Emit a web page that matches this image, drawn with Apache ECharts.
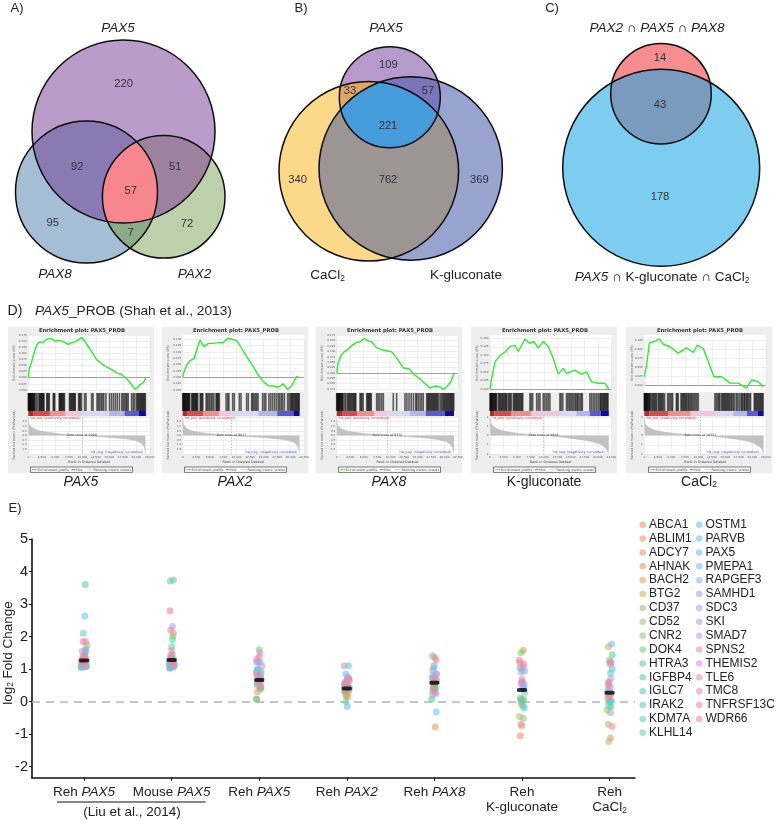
<!DOCTYPE html>
<html>
<head>
<meta charset="utf-8">
<style>
  html, body { margin: 0; padding: 0; background: #fff; }
  #main, #gsea { position: absolute; left: 0; top: 0; width: 777px; height: 821px; }
  #gsea { filter: blur(0.45px); pointer-events: none; }
</style>
<script src="https://cdn.jsdelivr.net/npm/echarts@6/dist/echarts.min.js"></script>
</head>
<body>
<div id="main"></div>
<div id="gsea"></div>
<script>
// ---- panel E: fold changes, one value per gene per comparison ----
const genes = ["ABCA1","ABLIM1","ADCY7","AHNAK","BACH2","BTG2","CD37","CD52","CNR2","DOK4","HTRA3","IGFBP4","IGLC7","IRAK2","KDM7A","KLHL14",
  "OSTM1","PARVB","PAX5","PMEPA1","RAPGEF3","SAMHD1","SDC3","SKI","SMAD7","SPNS2","THEMIS2","TLE6","TMC8","TNFRSF13C","WDR66"];
const comparisons = ["{n|Reh }{i|PAX5}","{n|Mouse }{i|PAX5}","{n|Reh }{i|PAX5}","{n|Reh }{i|PAX2}","{n|Reh }{i|PAX8}","{n|Reh}\n{n|K-gluconate}","{n|Reh}\n{n|CaCl}{s|2}"];
const liuReh   = [1.20,1.42,1.33,1.12,1.08,1.10,1.06,1.73,1.28,1.15,3.60,1.22,1.62,1.10,1.30,2.10,1.07,2.63,1.05,1.55,1.50,1.06,1.18,1.55,1.25,1.35,1.85,1.12,1.85,1.40,1.25];
const liuMouse = [2.79,1.38,2.10,1.18,1.22,1.12,1.05,1.02,2.02,3.74,1.10,1.30,1.46,1.90,1.69,3.71,1.15,1.08,1.04,1.06,1.20,1.25,2.31,1.10,1.32,1.14,1.57,2.20,1.28,1.42,1.16];
const rehPax5  = [0.90,0.30,0.93,0.62,0.72,0.55,0.08,0.38,1.60,0.40,0.07,0.45,0.78,0.65,0.50,0.98,0.85,1.00,1.22,1.22,0.75,1.22,0.60,0.55,1.50,1.10,0.70,1.30,1.38,0.82,0.48];
const rehPax2  = [0.68,0.55,0.18,0.15,0.22,0.28,0.30,0.36,0.45,0.32,0.58,0.42,0.38,0.00,1.10,0.62,0.70,0.85,-0.15,0.52,0.40,0.48,0.58,1.10,0.75,0.66,0.64,0.72,0.50,0.44,0.35];
const rehPax8  = [1.28,0.72,-0.78,0.66,0.50,0.58,0.40,0.44,0.46,0.43,1.41,0.42,0.38,0.07,1.03,0.62,0.70,-0.32,0.20,0.80,1.10,0.85,0.97,0.84,0.28,0.25,0.68,0.55,1.35,0.60,0.33];
const rehKgluc = [1.16,-1.05,-0.10,0.00,1.58,-0.75,-0.46,0.08,-0.51,1.50,0.11,0.05,1.04,0.02,0.30,-0.20,-0.15,0.42,0.54,0.94,0.92,0.45,1.00,0.60,0.55,0.62,1.08,0.70,1.27,-0.70,1.20];
const rehCacl  = [0.58,-1.12,0.30,0.10,-0.70,1.69,-0.26,-1.23,1.28,1.20,-0.17,-0.12,1.44,0.00,0.02,0.88,0.00,1.00,0.35,1.77,0.20,0.72,-0.34,0.46,0.22,1.22,-0.77,0.60,1.15,0.50,0.15];
const comparisonValues = [liuReh, liuMouse, rehPax5, rehPax2, rehPax8, rehKgluc, rehCacl];
const comparisonMeans = [1.26, 1.28, 0.66, 0.40, 0.58, 0.36, 0.27];
// sideways spread of the dots, in hundredths of a category
const liuRehSpread   = [-2,1,2,-3,2,-1,-3,3.4,-2,1,1.5,-1,2,3,-2,-0.8,-3,0.8,-3,2,1,2,-2,-2,3,0,2,1,-1,-1,-3];
const liuMouseSpread = [-2,0,2,1,-2,3,-1,-2,1.5,2,-2,2,0.8,1,0,-1.5,-3,2,-2,1.5,3,-1,1,3,-2,1,0,-1,2,-1,1];
const rehPax5Spread  = [-3,-2,2,-1,1,-2.5,-3,1,0,1.5,-3,2,-1,1,-2,-2,2,-2,-1,0.8,1.5,-3,-2,2,0.8,3,2,-3,0,-3,1];
const rehPax2Spread  = [2,-2,-1,1,0,-2,2,-3,1,-1,0,3,-1.5,-1,2,-1,2,-1,0.6,-3,2,1,-2,-3,1,0,3,2,-2,1,-1];
const rehPax8Spread  = [2,-2,1,2,0,-1,1,-1,0,0,-2,1,-1,-3,-0.5,1,-2,2,-2,-2,-0.5,2,-2,2.5,1,1.5,2,-1,0.5,-1,-2];
const rehKglucSpread = [2,-2,-0.5,-1,1.5,-0.5,-3,2,1.5,-1,-2,-1,-2.5,1,3,2.5,1.5,2,2.5,3,-1,1,0,0,-1,0,1.5,0,-3,-1,-2.5];
const rehCaclSpread  = [-1,1,0,-2,-1.5,-1.5,-3,-1,0,0,1.5,-0.8,3,0.8,2.3,1,-0.8,3,-2,2.3,1,1.5,1,0.8,-2,2,3,-1,1,-1.5,0];
const comparisonSpreads = [liuRehSpread, liuMouseSpread, rehPax5Spread, rehPax2Spread, rehPax8Spread, rehKglucSpread, rehCaclSpread];

// ---- panels A-C: venn counts ----
const vennACounts = [220, 92, 57, 51, 95, 72, 7];
const vennBCounts = [109, 33, 57, 221, 762, 340, 369];
const vennCCounts = [14, 43, 178];

// ---- panel D: enrichment curves [rank, score] ----
const esPax5 = [[0,0],[185,.037],[617,.065],[925,.092],[1420,.127],[1850,.143],[2280,.147],[2775,.145],[3395,.157],[4010,.161],[4505,.157],[4935,.150],[5550,.154],[6170,.150],[6785,.145],[7405,.137],[8020,.144],[8640,.147],[9255,.155],[9870,.164],[10300,.155],[10920,.134],[11720,.107],[12650,.074],[13570,.058],[14500,.044],[15420,.034],[16470,.019],[17270,.014],[18200,-.004],[18940,-.022],[19740,-.048],[20170,-.041],[20660,-.028],[21280,-.021],[21780,-.001]];
const esPax2 = [[0,0],[245,.022],[740,.049],[1360,.066],[2100,.074],[2590,.108],[3210,.147],[3950,.121],[4750,.134],[5680,.134],[6600,.137],[7530,.137],[8330,.154],[9070,.151],[10000,.145],[10730,.121],[11850,.082],[13080,.042],[14010,.009],[14930,-.017],[15860,-.033],[16780,-.034],[17710,-.039],[18630,-.026],[19430,-.047],[20170,-.034],[21100,.003],[21650,-.001]];
const esPax8 = [[0,0],[245,.044],[740,.080],[1360,.098],[2160,.111],[2780,.127],[3700,.142],[4320,.145],[5120,.161],[5860,.148],[6480,.145],[7280,.119],[8330,.108],[9560,.102],[10180,.098],[11100,.070],[12340,.023],[13390,.020],[14500,-.011],[15420,-.027],[16350,-.050],[17270,-.070],[18380,-.061],[19120,-.066],[19740,-.078],[20480,-.061],[21100,-.042],[21720,0]];
const esKgluc = [[0,0],[310,.032],[925,.081],[1850,.099],[2775,.109],[3700,.126],[4620,.129],[5240,.111],[6470,.148],[7400,.135],[8130,.141],[8930,.121],[9860,.141],[10780,.126],[11700,.091],[12630,.044],[13550,.061],[14170,.046],[15710,.056],[16940,.044],[17870,.051],[18800,.022],[20030,.017],[21260,.017],[22000,0]];
const esCacl = [[0,.024],[430,.057],[925,.118],[1665,.122],[2775,.130],[3515,.115],[4750,.108],[6290,.090],[7830,.105],[9070,.092],[9810,.113],[10920,.103],[11850,.066],[12900,.024],[14320,.024],[15860,.006],[17400,.006],[18940,-.008],[19860,.015],[21100,.010],[22100,-.004]];

// gene-set hit positions along the ranked list
const hitsPax5 = [0,90,180,270,360,450,560,660,770,880,990,1100,1210,1450,1700,1980,2120,2260,2390,2520,2660,2790,2900,3420,3560,3720,3890,4620,4760,4900,5720,5850,5980,6110,6250,6400,6560,6700,7620,7770,7940,8100,8260,8420,8580,8700,9320,9480,9640,9860,10420,10690,11720,11990,12720,12960,13200,13480,13720,13980,14380,15040,15400,15760,16120,16480,16880,17320,17560,17800,18060,18260,18500,19120,19420,19700,20040,20210,20380,20560,20720,20880,21040,21200,21360,21520,21680];
const hitsPax2 = [0,100,200,300,400,510,620,730,840,950,1060,1180,1300,1660,1800,1940,2080,2220,2360,2500,2640,2780,3240,3400,3560,3720,4340,4540,4780,5020,5280,5520,5780,6170,6320,6470,6620,6780,8030,8340,8550,9250,9560,10490,10800,11840,12150,12770,12960,13200,13450,13700,13950,14800,15100,15400,15960,16300,16640,17000,17350,17700,17960,18260,18510,18840,19430,19700,19960,20120,20280,20450,20620,20800,20960,21120,21280,21440,21580];
const hitsPax8 = [0,90,180,280,380,480,590,700,820,940,1060,1180,1450,1680,1980,2160,2340,2520,2700,2900,3080,3240,3400,3540,4320,4500,4680,4900,5560,5740,5900,6060,6240,6400,7400,7680,8000,8330,8640,10480,11100,12640,13000,13400,13800,14200,14620,14820,15120,15440,15740,16040,16660,16840,17000,17180,17360,17540,17720,17900,18080,18260,18440,18620,18800,19120,19360,19600,19780,19960,20140,20320,20500,20680,20860,21040,21200,21360,21520,21680];
const hitsKgluc = [0,90,180,280,380,490,610,740,860,980,1100,1210,1540,1720,1900,2080,2260,2440,2620,2790,2960,3100,3390,3580,3760,3950,4320,4500,4680,4860,5020,5200,5380,5550,5740,5900,6060,7400,7640,7900,8640,8950,9250,9860,10160,10480,10780,11100,12950,13180,13480,14170,14420,14680,14930,15180,15420,15720,15920,16160,16340,16640,16900,17100,18500,18800,19120,19430,19740,20050,20360,20500,20680,20860,21040,21200,21360,21540,21700,21860];
const hitsCacl = [0,80,160,240,330,420,520,620,740,860,980,1110,1360,1540,1730,1910,2100,2280,2590,2770,2960,3140,3330,3520,3760,4320,4560,4800,5060,5240,5930,6100,6290,6790,6970,7160,7340,7530,7720,7900,8140,8330,8560,8760,9000,9250,9500,9750,10000,13080,13330,13600,13820,14000,14320,14500,14680,14870,15050,15240,15420,15620,15800,16040,16220,16470,16700,17030,17270,17570,17890,18080,18260,18500,18640,18880,19060,19260,19490,19680,20360,20540,20720,20910,21100,21280,21470,21650,21840,22000];

// colour strip band edges along the ranked list
const stripPax5 = [0,1000,4000,6800,10000,15000,17800,20500,21780];
const stripPax2 = [0,900,3800,6800,9000,14000,17500,20500,21650];
const stripPax8 = [0,1000,3800,7000,9400,13500,16500,20000,21720];
const stripKgluc = [0,800,4000,7600,12950,16000,18500,20500,22000];
const stripCacl = [0,900,4500,8600,13100,16500,19000,21000,22100];

// ranking metric [rank, score]
const metricPax5 = [[0,1.95],[60,1.5],[200,1.2],[500,.95],[1000,.75],[2000,.52],[3500,.35],[5000,.24],[7000,.12],[9900,0],[12000,-.08],[14000,-.15],[16000,-.24],[18000,-.36],[19500,-.5],[20500,-.68],[21200,-.95],[21500,-1.25],[21700,-1.9]];
const metricPax2 = [[0,1.9],[60,1.45],[200,1.15],[500,.9],[1000,.68],[2000,.46],[3500,.3],[5000,.2],[7000,.09],[9017,0],[11000,-.07],[13000,-.14],[15000,-.22],[17000,-.32],[19000,-.46],[20300,-.66],[21000,-.9],[21400,-1.3],[21640,-1.9]];
const metricPax8 = [[0,1.85],[60,1.4],[200,1.1],[500,.88],[1000,.68],[2000,.47],[3500,.32],[5000,.21],[7000,.1],[9376,0],[11500,-.07],[13500,-.14],[15500,-.22],[17500,-.33],[19000,-.46],[20300,-.66],[21000,-.92],[21450,-1.3],[21710,-1.9]];
const metricKgluc = [[0,1.95],[60,1.6],[200,1.3],[500,1.05],[1000,.82],[2000,.58],[3500,.38],[5000,.25],[7000,.12],[9904,0],[11500,-.05],[13500,-.2],[15500,-.34],[17500,-.5],[19000,-.68],[20300,-.9],[21100,-1.2],[21600,-1.5],[21990,-1.95]];
const metricCacl = [[0,1.9],[60,1.55],[200,1.25],[500,1],[1000,.8],[2000,.56],[3500,.38],[5000,.26],[7500,.12],[10351,0],[12500,-.06],[14500,-.2],[16500,-.34],[18000,-.48],[19500,-.66],[20500,-.88],[21300,-1.2],[21800,-1.5],[22090,-1.95]];

const zeroCrossRanks = [9900, 9017, 9376, 9904, 10351];
const zeroCrossTexts = ["Zero cross at 9900","Zero cross at 9017","Zero cross at 9376","Zero cross at 9904","Zero cross at 10351"];
const panelCaptions = ["{i|PAX5}","{i|PAX2}","{i|PAX8}","K-gluconate","CaCl{s|2}"];

// ---- styles and layout ----
const FONT = '"Liberation Sans", Arial, sans-serif';
const GSEA_FONT = '"DejaVu Sans", sans-serif';
const TEXT = '#222';
// dot colours as they look on white, darkened for the alpha below
const geneShades = ["#F4A9A9","#F6AE9C","#EFB58B","#E9BB84","#DFC387","#D8C98A","#C9CE8E","#BFD498","#AFD79B","#9DD9A1","#90DBAA","#8DDBB2","#8CDCBD","#8BDCC7","#8CDCD1","#8CDADA",
  "#8CD9E3","#8DD6EC","#95D1F1","#A1CCF0","#AAC7EC","#B5C2E8","#C4BDE4","#CFB9E2","#D7B5DF","#E0B2D9","#E9AED1","#EFACC7","#F3A9BE","#F5A8B6","#F5A9AE"];
function dotColor(hex, alpha) {
  const rgb = [1, 3, 5].map(i => parseInt(hex.substr(i, 2), 16));
  const solid = rgb.map(c => Math.max(0, Math.round((c - 255 * (1 - alpha)) / alpha)));
  return 'rgba(' + solid.join(',') + ',' + alpha + ')';
}
const stripColors = ['#B02A2A','#D94A4A','#EE9090','#F4C6DE','#D9D9F7','#B5B5EE','#5A5AD8','#1A00A8'];

function richFor(size, family) {
  const f = family || FONT;
  return {
    i: { fontStyle: 'italic', fontSize: size, fontFamily: f, fill: TEXT, color: TEXT },
    n: { fontSize: size, fontFamily: f, fill: TEXT, color: TEXT },
    s: { fontSize: size * 0.62, fontFamily: f, verticalAlign: 'bottom', fill: TEXT, color: TEXT }
  };
}
function label(x, y, text, size, opt) {
  opt = opt || {};
  return {
    type: 'text', x: x, y: y, rotation: opt.rotation || 0, z: opt.z || 5, silent: true,
    style: {
      text: text, fill: opt.fill || TEXT, fontSize: size, fontFamily: opt.family || FONT,
      fontWeight: opt.weight || 'normal', fontStyle: opt.style || 'normal',
      textAlign: opt.align || 'center', textVerticalAlign: 'middle', rich: richFor(size, opt.family)
    }
  };
}

// venn circles in page pixels, regions painted bottom to top
const circlesA = [[123.5,131.5,91.5],[86.5,192,71],[163.7,196.8,61.3]];
const regionsA = [[[0],'#B99CC9'],[[1],'#A6BDD6'],[[2],'#BDD0AC'],[[0,1],'#8B79B4'],[[0,2],'#9C829F'],[[1,2],'#8DAB8B'],[[0,1,2],'#F7868E']];
const circlesB = [[368.8,171.2,89.8],[410.7,168.5,91.7],[389.8,97.3,50.5]];
const regionsB = [[[0],'#FCD988'],[[1],'#99A3CF'],[[2],'#B69ACB'],[[0,1],'#9C9593'],[[0,2],'#E0A665'],[[1,2],'#7A74BB'],[[0,1,2],'#459CDA']];
const circlesC = [[661,93.7,50.3],[661.2,167.8,98.5]];
const regionsC = [[[0],'#F78D8E'],[[1],'#7DCDF0'],[[0,1],'#7B9BBE']];

function vennSeries(circles, regions) {
  const toPx = (api, i) => {
    const p = api.coord([circles[i][0], circles[i][1]]);
    return { cx: p[0], cy: p[1], r: api.size([circles[i][2], 0])[0] };
  };
  const fills = {
    type: 'custom', xAxisIndex: 1, yAxisIndex: 1, silent: true, clip: false, z: 2,
    data: regions.map((r, i) => [i, 0]), encode: { x: 0, y: 1 },
    renderItem: (params, api) => {
      const ids = regions[params.dataIndex][0];
      let el = { type: 'circle', shape: toPx(api, ids[ids.length - 1]), style: { fill: regions[params.dataIndex][1] } };
      for (let k = 0; k < ids.length - 1; k++) {
        el = { type: 'group', clipPath: { type: 'circle', shape: toPx(api, ids[k]) }, children: [el] };
      }
      return el;
    }
  };
  const outlines = {
    type: 'custom', xAxisIndex: 1, yAxisIndex: 1, silent: true, clip: false, z: 3,
    data: circles.map((c, i) => [i, 0]), encode: { x: 0, y: 1 },
    renderItem: (params, api) => ({
      type: 'circle', shape: toPx(api, params.dataIndex),
      style: { fill: 'none', stroke: '#0c0c0c', lineWidth: 1.5 }
    })
  };
  return [fills, outlines];
}

const COUNT = 11.2, NAME = 13.5;
const countColor = { fill: '#33323a' };
const vennAPos = [[123.7,84],[77.3,167.3],[130.7,190.7],[175.3,167.3],[52.7,223.3],[187,224],[130.7,232.7]];
const vennBPos = [[388.3,65],[350,90.7],[428,90.7],[388,125.7],[388,180],[297.7,180],[479.3,180]];
const vennCPos = [[660,58],[660,105],[660,197.3]];
const pageTexts = [
  label(17, 8, 'A)', 13, { }), label(301, 8, 'B)', 13, { }), label(552, 8, 'C)', 13, { }),
  label(118, 28, '{i|PAX5}', NAME), label(55, 274.5, '{i|PAX8}', NAME), label(194.5, 274.5, '{i|PAX2}', NAME),
  label(386, 28, '{i|PAX5}', NAME), label(327.5, 275.5, 'CaCl{s|2}', NAME), label(466, 275, 'K-gluconate', NAME),
  label(657, 28, '{i|PAX2} \u2229 {i|PAX5} \u2229 {i|PAX8}', NAME),
  label(662, 277.5, '{i|PAX5} \u2229 K-gluconate \u2229 CaCl{s|2}', NAME),
  label(15, 311, 'D)', 14), label(35, 311, '{i|PAX5}_PROB (Shah et al., 2013)', 13.7, { align: 'left' }),
  label(15, 508, 'E)', 13),
  label(8, 653, 'log{s|2} Fold Change', 13.5, { rotation: Math.PI / 2 }),
  label(132, 812, '(Liu et al., 2014)', 13.5),
  { type: 'line', shape: { x1: 57, y1: 802, x2: 205.7, y2: 802 }, style: { stroke: '#111', lineWidth: 1 }, silent: true }
];
[[vennAPos, vennACounts], [vennBPos, vennBCounts], [vennCPos, vennCCounts]].forEach(([pos, counts]) => {
  counts.forEach((c, i) => pageTexts.push(label(pos[i][0], pos[i][1], String(c), COUNT, countColor)));
});
panelCaptions.forEach((c, i) => pageTexts.push(label([81, 235, 389, 544, 699][i], 482, c, 14)));

const geneSeries = genes.map((gene, g) => ({
  type: 'scatter', name: gene, xAxisIndex: 0, yAxisIndex: 0, symbolSize: 7, silent: true, z: 4,
  itemStyle: { color: dotColor(geneShades[g], 0.72) },
  data: comparisonValues.map((vals, c) => [c + comparisonSpreads[c][g] / 100, vals[g]])
}));
geneSeries[0].markLine = {
  silent: true, symbol: 'none', z: 1, label: { show: false },
  lineStyle: { color: '#b4b4b4', type: [8, 6], width: 1.5 }, data: [{ yAxis: 0 }]
};
const meanSeries = {
  type: 'scatter', xAxisIndex: 0, yAxisIndex: 0, symbol: 'roundRect', symbolSize: [10, 4], silent: true, z: 6,
  itemStyle: { color: '#000' }, data: comparisonMeans.map((m, c) => [c, m])
};
const legendBase = {
  orient: 'vertical', icon: 'circle', itemWidth: 6.5, itemHeight: 6.5, itemGap: 1.87, padding: 0, selectedMode: false,
  textStyle: { fontSize: 12, lineHeight: 12, fontFamily: FONT, color: TEXT, padding: [0, 0, 0, -2] }
};

const main = echarts.init(document.getElementById('main'), null, { renderer: 'canvas' });
main.setOption({
  animation: false,
  backgroundColor: '#fff',
  grid: [
    { left: 32, top: 539, width: 603, height: 239 },
    { left: 0, top: 0, width: 777, height: 821 }
  ],
  xAxis: [
    {
      type: 'value', min: -0.594, max: 6.29, splitLine: { show: false },
      axisLine: { onZero: false, lineStyle: { color: '#111', width: 1.6 } },
      axisTick: { customValues: [0, 1, 2, 3, 4, 5, 6], length: 3, lineStyle: { color: '#111' } },
      axisLabel: {
        customValues: [0, 1, 2, 3, 4, 5, 6], margin: 7, verticalAlign: 'top', lineHeight: 15,
        formatter: v => comparisons[v], rich: richFor(13.5)
      }
    },
    { type: 'value', gridIndex: 1, min: 0, max: 777, show: false }
  ],
  yAxis: [
    {
      type: 'value', min: -2.35, max: 5, splitLine: { show: false },
      axisLine: { onZero: false, lineStyle: { color: '#111', width: 1.6 } },
      axisTick: { customValues: [-2, -1, 0, 1, 2, 3, 4, 5], length: 3, lineStyle: { color: '#111' } },
      axisLabel: { customValues: [-2, -1, 0, 1, 2, 3, 4, 5], margin: 4, fontSize: 14.5, fontFamily: FONT, color: TEXT }
    },
    { type: 'value', gridIndex: 1, min: 0, max: 821, inverse: true, show: false }
  ],
  legend: [
    Object.assign({}, legendBase, { left: 639.5, top: 518.7, data: genes.slice(0, 16) }),
    Object.assign({}, legendBase, { left: 696, top: 518.7, data: genes.slice(16) })
  ],
  graphic: { elements: pageTexts },
  series: [].concat(
    vennSeries(circlesA, regionsA), vennSeries(circlesB, regionsB), vennSeries(circlesC, regionsC),
    geneSeries, meanSeries
  )
});

// ---- GSEA panels ----
const panelLeft = [8, 162, 316, 471, 626];
const plotLeft = [28.3, 182.7, 336.7, 490, 644.3];
const PANEL_W = 146, PLOT_W = 121.5;
const esCurves = [esPax5, esPax2, esPax8, esKgluc, esCacl];
const hitLists = [hitsPax5, hitsPax2, hitsPax8, hitsKgluc, hitsCacl];
const stripEdges = [stripPax5, stripPax2, stripPax8, stripKgluc, stripCacl];
const metricCurves = [metricPax5, metricPax2, metricPax8, metricKgluc, metricCacl];
const esRange = [[-0.05, 0.175], [-0.05, 0.15], [-0.075, 0.175], [0, 0.15], [0, 0.125]];
const esTopBottom = [[335, 389.9], [339.3, 390], [335.3, 389], [338.3, 389], [340.7, 385.3]];
const metricStep = [0.5, 0.5, 0.5, 1, 1];
const STRIP_BASE = 0.22;

const grids = [], xAxes = [], yAxes = [], panelSeries = [], panelGraphics = [];
const tiny = { fontSize: 2.8, fontFamily: GSEA_FONT, color: '#555' };
const xTemplate = (gridIndex, showLabel) => ({
  type: 'value', gridIndex: gridIndex, min: 0, max: 22500, interval: 2500,
  axisLine: { show: false }, axisTick: { show: false },
  splitLine: { show: true, lineStyle: { color: '#e4e4e4', width: 0.6 } },
  axisLabel: Object.assign({ show: showLabel, margin: 1.5, hideOverlap: false, formatter: v => v.toLocaleString('en-US') }, tiny)
});

esCurves.forEach((es, p) => {
  const g = p * 3;
  const left = plotLeft[p];
  grids.push(
    { left: left, width: PLOT_W, top: esTopBottom[p][0], height: esTopBottom[p][1] - esTopBottom[p][0] },
    { left: left, width: PLOT_W, top: 393, height: 23 },
    { left: left, width: PLOT_W, top: 417, height: 37 }
  );
  xAxes.push(xTemplate(g, false), Object.assign(xTemplate(g + 1, false), { splitLine: { show: false } }), xTemplate(g + 2, true));
  yAxes.push(
    {
      type: 'value', gridIndex: g, min: esRange[p][0], max: esRange[p][1], interval: 0.025,
      axisLine: { show: false }, axisTick: { show: false },
      splitLine: { show: true, lineStyle: { color: '#e4e4e4', width: 0.6 } },
      axisLabel: Object.assign({ margin: 1.5, formatter: v => v.toFixed(3) }, tiny)
    },
    { type: 'value', gridIndex: g + 1, min: 0, max: 1, show: false },
    {
      type: 'value', gridIndex: g + 2, min: -2, max: 2, interval: metricStep[p],
      axisLine: { show: false }, axisTick: { show: false },
      splitLine: { show: true, lineStyle: { color: '#e4e4e4', width: 0.6 } },
      axisLabel: Object.assign({ margin: 1.5, formatter: v => Math.abs(v) === 2 && metricStep[p] === 0.5 ? '' : (metricStep[p] === 0.5 ? v.toFixed(1) : String(v)) }, tiny)
    }
  );
  panelSeries.push(
    {
      type: 'line', xAxisIndex: g, yAxisIndex: g, data: es, symbol: 'none', silent: true, clip: false, z: 4,
      lineStyle: { color: '#2FEA2F', width: 1.4 },
      markLine: { silent: true, symbol: 'none', z: 2, label: { show: false }, lineStyle: { color: '#a0a0a0', type: 'solid', width: 1 }, data: [{ yAxis: 0 }] }
    },
    {
      type: 'custom', xAxisIndex: g + 1, yAxisIndex: g + 1, silent: true, clip: false,
      data: hitLists[p].map(r => [r, 1]), encode: { x: 0, y: 1 },
      renderItem: (params, api) => {
        const top = api.coord([api.value(0), 1]);
        const bot = api.coord([api.value(0), STRIP_BASE]);
        return { type: 'rect', shape: { x: top[0] - 0.8, y: top[1], width: 1.6, height: bot[1] - top[1] }, style: { fill: 'rgba(0,0,0,0.62)' } };
      }
    },
    {
      type: 'custom', xAxisIndex: g + 1, yAxisIndex: g + 1, silent: true, clip: false,
      data: stripEdges[p].slice(0, -1).map((e, i) => [e, stripEdges[p][i + 1]]), encode: { x: [0, 1] },
      renderItem: (params, api) => {
        const a = api.coord([api.value(0), STRIP_BASE]);
        const b = api.coord([api.value(1), 0]);
        return { type: 'rect', shape: { x: a[0], y: a[1], width: b[0] - a[0], height: b[1] - a[1] }, style: { fill: stripColors[params.dataIndex] } };
      }
    },
    {
      type: 'line', xAxisIndex: g + 2, yAxisIndex: g + 2, data: metricCurves[p], symbol: 'none', silent: true, z: 3,
      lineStyle: { color: '#bdbdbd', width: 0.6 }, areaStyle: { color: '#c2c2c2', opacity: 1 },
      markLine: { silent: true, symbol: 'none', z: 4, label: { show: false }, lineStyle: { color: '#888', type: [1.5, 1.5], width: 0.5 }, data: [{ xAxis: zeroCrossRanks[p] }] }
    }
  );

  const px = panelLeft[p];
  const tickX = left + PLOT_W / 2;
  const legendX = px + 22.5;
  const zeroX = left + zeroCrossRanks[p] / 22500 * PLOT_W;
  panelGraphics.push(
    { type: 'rect', z: -2, silent: true, shape: { x: px, y: 327, width: PANEL_W, height: 146 }, style: { fill: '#eeeeee' } },
    { type: 'rect', z: -1, silent: true, shape: { x: left, y: 335, width: PLOT_W, height: 57 }, style: { fill: '#fff' } },
    { type: 'rect', z: -1, silent: true, shape: { x: left, y: 417, width: PLOT_W, height: 37 }, style: { fill: '#fff' } },
    label(px + PANEL_W / 2 + 1, 331, 'Enrichment plot: PAX5_PROB', 5.3, { family: GSEA_FONT, weight: 'bold', fill: '#333' }),
    label(px + 6, 363, 'Enrichment score (ES)', 3.2, { family: GSEA_FONT, fill: '#555', rotation: Math.PI / 2 }),
    label(px + 6, 435, 'Ranked list metric (PreRanked)', 3.2, { family: GSEA_FONT, fill: '#555', rotation: Math.PI / 2 }),
    label(tickX, 462, 'Rank in Ordered Dataset', 3.4, { family: GSEA_FONT, fill: '#444' }),
    label(left + 1.5, 417.8, "'na_pos' (positively correlated)", 3.3, { family: GSEA_FONT, fill: '#e0362f', align: 'left' }),
    label(left + 62, 452, "'na_neg' (negatively correlated)", 3.3, { family: GSEA_FONT, fill: '#3a3ad8', align: 'left' }),
    label(zeroX, 435.3, zeroCrossTexts[p], 3.2, { family: GSEA_FONT, fill: '#333' }),
    { type: 'rect', silent: true, z: 4, shape: { x: legendX, y: 467, width: 102, height: 5.4 }, style: { fill: '#fff', stroke: '#222', lineWidth: 0.6 } },
    { type: 'line', silent: true, z: 5, shape: { x1: legendX + 1.5, y1: 469.7, x2: legendX + 7, y2: 469.7 }, style: { stroke: '#2FEA2F', lineWidth: 1 } },
    label(legendX + 7.5, 469.7, 'Enrichment profile', 3.4, { family: GSEA_FONT, fill: '#444', align: 'left' }),
    { type: 'line', silent: true, z: 5, shape: { x1: legendX + 41, y1: 469.7, x2: legendX + 45, y2: 469.7 }, style: { stroke: '#222', lineWidth: 0.6 } },
    label(legendX + 45.5, 469.7, 'Hits', 3.4, { family: GSEA_FONT, fill: '#444', align: 'left' }),
    { type: 'line', silent: true, z: 5, shape: { x1: legendX + 56, y1: 469.7, x2: legendX + 62, y2: 469.7 }, style: { stroke: '#bbb', lineWidth: 0.8 } },
    label(legendX + 63, 469.7, 'Ranking metric scores', 3.4, { family: GSEA_FONT, fill: '#444', align: 'left' })
  );
});

const gsea = echarts.init(document.getElementById('gsea'), null, { renderer: 'canvas' });
gsea.setOption({
  animation: false,
  grid: grids, xAxis: xAxes, yAxis: yAxes,
  graphic: { elements: panelGraphics },
  series: panelSeries
});
</script>
</body>
</html>
